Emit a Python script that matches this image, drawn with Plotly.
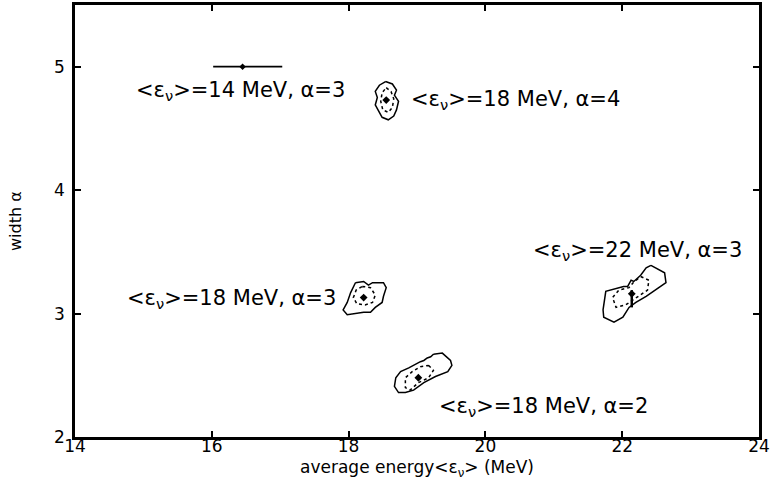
import plotly.graph_objects as go

# ---- data (average energy in MeV, width alpha) ----
# 18 MeV, alpha=4
a_solid_x = [18.54, 18.64, 18.70, 18.67, 18.73, 18.70, 18.66, 18.58, 18.49, 18.44, 18.39, 18.42, 18.39, 18.45, 18.54]
a_solid_y = [4.88, 4.86, 4.81, 4.77, 4.72, 4.65, 4.60, 4.57, 4.59, 4.64, 4.69, 4.75, 4.80, 4.85, 4.88]
a_dot_x = [18.55, 18.62, 18.66, 18.64, 18.58, 18.50, 18.47, 18.49, 18.55]
a_dot_y = [4.83, 4.80, 4.74, 4.67, 4.63, 4.65, 4.72, 4.79, 4.83]
a_center = (18.55, 4.73)

# 18 MeV, alpha=3
b_solid_x = [18.10, 18.22, 18.29, 18.35, 18.51, 18.55, 18.51, 18.49, 18.39, 18.32, 18.22, 18.10, 17.98, 17.92, 17.98, 18.03, 18.07, 18.10]
b_solid_y = [3.25, 3.26, 3.23, 3.25, 3.25, 3.21, 3.14, 3.09, 3.05, 3.01, 3.01, 3.00, 2.99, 3.03, 3.09, 3.17, 3.21, 3.25]
b_dot_x = [18.20, 18.32, 18.39, 18.35, 18.24, 18.12, 18.07, 18.11, 18.20]
b_dot_y = [3.22, 3.21, 3.15, 3.09, 3.07, 3.08, 3.13, 3.19, 3.22]
b_center = (18.22, 3.13)

# 18 MeV, alpha=2
c_solid_x = [19.24, 19.37, 19.49, 19.51, 19.45, 19.27, 19.10, 18.95, 18.83, 18.73, 18.67, 18.69, 18.76, 18.88, 19.05, 19.10, 19.15, 19.20, 19.24]
c_solid_y = [2.67, 2.68, 2.62, 2.58, 2.53, 2.49, 2.44, 2.38, 2.36, 2.36, 2.41, 2.48, 2.53, 2.56, 2.61, 2.62, 2.64, 2.65, 2.67]
c_dot_x = [19.17, 19.24, 19.17, 19.02, 18.90, 18.83, 18.83, 18.93, 19.05, 19.17]
c_dot_y = [2.58, 2.54, 2.48, 2.44, 2.38, 2.40, 2.48, 2.53, 2.57, 2.58]
c_center = (19.02, 2.48)

# 22 MeV, alpha=3
d_solid_x = [22.42, 22.54, 22.62, 22.64, 22.49, 22.35, 22.20, 22.10, 22.01, 21.88, 21.73, 21.72, 21.76, 21.94, 22.02, 22.08, 22.13, 22.17, 22.27, 22.35, 22.42]
d_solid_y = [3.39, 3.35, 3.33, 3.25, 3.19, 3.14, 3.09, 3.05, 2.97, 2.93, 2.97, 3.03, 3.18, 3.21, 3.22, 3.22, 3.27, 3.26, 3.31, 3.37, 3.39]
d_dot_x = [22.27, 22.39, 22.37, 22.20, 22.05, 21.91, 21.86, 21.95, 22.10, 22.16, 22.27]
d_dot_y = [3.30, 3.27, 3.19, 3.13, 3.07, 3.05, 3.13, 3.19, 3.21, 3.25, 3.30]
d_center = (22.14, 3.16)
d_bar_x = [22.14, 22.14]
d_bar_y = [3.19, 3.05]

# 14 MeV, alpha=3 (degenerate line)
e_line_x = [16.02, 17.03]
e_line_y = [5.00, 5.00]
e_center = (16.45, 5.00)

labels = [
    ("&lt;ε<sub>ν</sub>&gt;=14 MeV, α=3", 14.86, 4.80),
    ("&lt;ε<sub>ν</sub>&gt;=18 MeV, α=4", 18.89, 4.73),
    ("&lt;ε<sub>ν</sub>&gt;=18 MeV, α=3", 14.73, 3.12),
    ("&lt;ε<sub>ν</sub>&gt;=22 MeV, α=3", 20.67, 3.51),
    ("&lt;ε<sub>ν</sub>&gt;=18 MeV, α=2", 19.29, 2.24),
]

x_ticks = [14, 16, 18, 20, 22, 24]
y_ticks = [2, 3, 4, 5]
x_title = "average energy&lt;ε<sub>ν</sub>&gt; (MeV)"
y_title = "width α"

FONT = "DejaVu Sans, Liberation Sans, Arial, sans-serif"

fig = go.Figure()

def solid(x, y):
    fig.add_trace(go.Scatter(x=x, y=y, mode="lines", line=dict(color="black", width=1.5),
                             showlegend=False, hoverinfo="skip"))

def dotted(x, y):
    fig.add_trace(go.Scatter(x=x, y=y, mode="lines", line=dict(color="black", width=1.5, dash="dot"),
                             showlegend=False, hoverinfo="skip"))

def center(pt):
    fig.add_trace(go.Scatter(x=[pt[0]], y=[pt[1]], mode="markers",
                             marker=dict(symbol="diamond", size=6, color="black"),
                             showlegend=False, hoverinfo="skip"))

solid(a_solid_x, a_solid_y); dotted(a_dot_x, a_dot_y); center(a_center)
solid(b_solid_x, b_solid_y); dotted(b_dot_x, b_dot_y); center(b_center)
solid(c_solid_x, c_solid_y); dotted(c_dot_x, c_dot_y); center(c_center)
solid(d_solid_x, d_solid_y); dotted(d_dot_x, d_dot_y); center(d_center)
fig.add_trace(go.Scatter(x=d_bar_x, y=d_bar_y, mode="lines", line=dict(color="black", width=2.5),
                         showlegend=False, hoverinfo="skip"))
fig.add_trace(go.Scatter(x=e_line_x, y=e_line_y, mode="lines", line=dict(color="black", width=1.8),
                         showlegend=False, hoverinfo="skip"))
fig.add_trace(go.Scatter(x=[e_center[0]], y=[e_center[1]], mode="markers",
                         marker=dict(symbol="diamond", size=5, color="black"),
                         showlegend=False, hoverinfo="skip"))

for txt, x, y in labels:
    fig.add_annotation(x=x, y=y, text=txt, showarrow=False, xanchor="left", yanchor="middle",
                       font=dict(family=FONT, size=21, color="black"))

# axis titles
fig.add_annotation(x=0.5, y=0, xref="paper", yref="paper", text=x_title, showarrow=False,
                   xanchor="center", yanchor="top", yshift=-18,
                   font=dict(family=FONT, size=17, color="black"))
fig.add_annotation(x=0, y=0.5, xref="paper", yref="paper", text=y_title, showarrow=False,
                   xanchor="center", yanchor="middle", xshift=-60, textangle=-90,
                   font=dict(family=FONT, size=16, color="black"))

axis_common = dict(showline=True, linewidth=2.5, linecolor="black", mirror="ticks",
                   ticks="inside", ticklen=6, tickwidth=2, tickcolor="black",
                   showgrid=False, zeroline=False, automargin=False,
                   tickfont=dict(family=FONT, size=17, color="black"))

fig.update_xaxes(range=[14, 24], tickvals=x_ticks, ticktext=[str(v) for v in x_ticks],
                 ticklabelstandoff=-8, **axis_common)
fig.update_yaxes(range=[2, 5.5], tickvals=y_ticks, ticktext=[str(v) for v in y_ticks],
                 ticklabelstandoff=4, **axis_common)

fig.update_layout(width=771, height=481, margin=dict(l=75, r=12, t=5, b=44),
                  paper_bgcolor="white", plot_bgcolor="white",
                  font=dict(family=FONT, color="black"))

fig.write_html("out.html", config={"displayModeBar": False},
               post_script="document.body.style.margin='0';")
